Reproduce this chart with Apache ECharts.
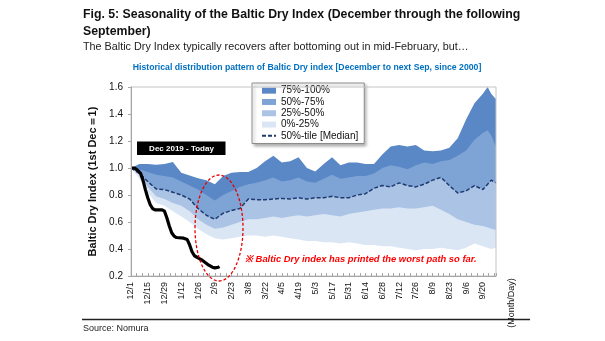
<!DOCTYPE html>
<html><head><meta charset="utf-8">
<script src="https://cdn.jsdelivr.net/npm/echarts@6/dist/echarts.min.js"></script>
<style>html,body{margin:0;padding:0;background:#fff}#c{width:605px;height:341px}</style>
</head><body><div id="c"></div>
<script>
// x tick labels (every 14 days from 12/1)
const xTickLabels = ['12/1','12/15','12/29','1/12','1/26','2/9','2/23','3/8','3/22','4/5','4/19','5/3','5/17','5/31','6/14','6/28','7/12','7/26','8/9','8/23','9/6','9/20'];
// days since 12/1 for the distribution bands
const bandDays = [0,7,14,21,28,35,42,49,56,63,70,77,84,91,98,105,112,119,126,133,140,147,154,161,168,175,182,189,196,203,210,217,224,231,238,245,252,259,266,273,280,287,294,298,301,305];
const pMax = [1.00,1.03,1.03,1.025,1.03,1.045,0.965,0.945,0.925,0.91,0.88,0.94,0.965,0.97,0.97,1.0,1.05,1.09,1.04,1.05,1.08,1.0,0.975,1.03,1.08,1.02,1.04,1.04,1.03,1.03,1.10,1.16,1.17,1.16,1.17,1.13,1.125,1.13,1.15,1.22,1.36,1.48,1.55,1.60,1.55,1.51];
const p75 = [1.00,0.99,0.97,0.95,0.94,0.93,0.90,0.87,0.84,0.80,0.76,0.80,0.83,0.86,0.88,0.89,0.91,0.93,0.90,0.91,0.93,0.90,0.89,0.92,0.95,0.92,0.93,0.94,0.94,0.96,1.0,1.02,1.01,0.99,1.02,1.04,1.03,1.05,1.06,1.09,1.13,1.21,1.26,1.28,1.24,1.16];
const p50 = [1.00,0.96,0.90,0.845,0.84,0.82,0.80,0.77,0.70,0.65,0.62,0.665,0.685,0.70,0.77,0.765,0.765,0.77,0.775,0.77,0.78,0.77,0.78,0.78,0.79,0.78,0.78,0.80,0.81,0.85,0.87,0.86,0.89,0.87,0.86,0.88,0.91,0.93,0.87,0.815,0.83,0.87,0.84,0.88,0.91,0.89];
const p25 = [1.00,0.95,0.86,0.79,0.77,0.74,0.72,0.68,0.62,0.58,0.55,0.56,0.58,0.60,0.62,0.62,0.63,0.64,0.63,0.64,0.65,0.64,0.65,0.66,0.65,0.64,0.66,0.67,0.68,0.69,0.70,0.70,0.71,0.70,0.70,0.71,0.72,0.69,0.66,0.62,0.60,0.58,0.57,0.56,0.55,0.54];
const pMin = [1.00,0.92,0.82,0.74,0.72,0.68,0.64,0.60,0.55,0.51,0.48,0.47,0.48,0.49,0.50,0.50,0.49,0.50,0.49,0.48,0.47,0.46,0.46,0.45,0.45,0.44,0.45,0.44,0.43,0.43,0.42,0.42,0.41,0.40,0.39,0.40,0.40,0.41,0.40,0.39,0.41,0.44,0.42,0.41,0.40,0.41];
// Dec 2019 - Today path
const curDays = [0,3,6,8,10,12,14,16,18,20,26,28,30,32,34,36,38,44,47,49,51,53,56,59,62,65,68,70,73,74];
const curValues = [1.0,1.0,0.98,0.96,0.91,0.84,0.78,0.73,0.70,0.69,0.69,0.68,0.63,0.57,0.52,0.495,0.485,0.48,0.47,0.43,0.38,0.35,0.335,0.32,0.30,0.28,0.265,0.26,0.265,0.27];

const FONT = 'Liberation Sans';
const bandColors = {'75%-100%':'#5a87c6','50%-75%':'#7ea3d5','25%-50%':'#abc4e5','0%-25%':'#dbe6f4','floor':'#ffffff'};
const pairs = (xs, ys) => xs.map((x,i)=>[x, ys[i]]);

// each band is filled from its upper boundary down to the axis; lower bands are painted over it
function band(name, vals){
  return {name, type:'line', symbol:'none', color:bandColors[name],
    lineStyle:{width:0}, areaStyle:{color:bandColors[name], opacity:1, origin:'start'},
    data: pairs(bandDays, vals), z:2, silent:true};
}

const chart = echarts.init(document.getElementById('c'), null, {renderer:'canvas'});
chart.setOption({
  animation:false,
  textStyle:{fontFamily:FONT},
  grid:{left:131, right:109, top:87, bottom:65, show:true, borderColor:'#c4c4c4', borderWidth:1, z:5},
  legend:{
    orient:'vertical', left:252, top:83, itemWidth:14, itemHeight:6, itemGap:0,
    padding:[2,6,2,9], backgroundColor:'#fff', borderColor:'#8c8c8c', borderWidth:1,
    shadowColor:'rgba(0,0,0,0.3)', shadowBlur:3, shadowOffsetX:2, shadowOffsetY:2,
    textStyle:{fontFamily:FONT, fontSize:10, color:'#111', lineHeight:11.3},
    itemStyle:{borderWidth:0},
    data:[{name:'75%-100%',icon:'rect'},{name:'50%-75%',icon:'rect'},{name:'25%-50%',icon:'rect'},{name:'0%-25%',icon:'rect'},
      {name:'50%-tile [Median]', itemStyle:{opacity:0}}]
  },
  xAxis:{type:'value', min:0, max:305, interval:14, z:6,
    axisLine:{lineStyle:{color:'#a6a6a6'}},
    axisTick:{inside:true, length:3, lineStyle:{color:'#a6a6a6'}},
    minorTick:{show:true, splitNumber:3, length:3, lineStyle:{color:'#a6a6a6'}},
    splitLine:{show:false},
    axisLabel:{rotate:90, fontSize:9, color:'#111', margin:6, showMaxLabel:false,
      formatter:v=>xTickLabels[Math.round(v/14)] || ''}
  },
  yAxis:{type:'value', min:0.2, max:1.6, interval:0.2, z:6,
    name:'Baltic Dry Index (1st Dec＝1)', nameLocation:'middle', nameGap:30,
    nameTextStyle:{fontFamily:FONT, fontSize:11, fontWeight:'bold', color:'#111'},
    axisLine:{show:true, lineStyle:{color:'#a6a6a6'}},
    axisTick:{show:true, length:3, lineStyle:{color:'#a6a6a6'}},
    splitLine:{show:false},
    axisLabel:{fontSize:10, color:'#111', margin:8, formatter:v=>v.toFixed(1)}
  },
  series:[
    band('75%-100%', pMax),
    band('50%-75%', p75),
    band('25%-50%', p50),
    band('0%-25%', p25),
    band('floor', pMin),
    {name:'50%-tile [Median]', type:'line', symbol:'none', color:'#1f3a6e',
      lineStyle:{color:'#1f3a6e', width:1.5, type:[4,2]}, data:pairs(bandDays,p50), z:3},
    {name:'Dec 2019 - Today', type:'line', symbol:'none', color:'#000',
      lineStyle:{color:'#000', width:3.2}, data:pairs(curDays,curValues), z:4}
  ],
  graphic:[
    {type:'text', left:83, top:6, style:{text:'Fig. 5: Seasonality of the Baltic Dry Index (December through the following\nSeptember)', font:'bold 12.3px "Liberation Sans"', fill:'#111', lineHeight:17}},
    {type:'text', left:83, top:42, style:{text:'The Baltic Dry Index typically recovers after bottoming out in mid-February, but…', font:'10.8px "Liberation Sans"', fill:'#222'}},
    {type:'text', x:307, y:68, style:{text:'Historical distribution pattern of Baltic Dry index [December to next Sep, since 2000]', font:'bold 8.7px "Liberation Sans"', fill:'#0070c0', align:'center', verticalAlign:'middle'}},
    {type:'rect', shape:{x:137, y:141.5, width:88.5, height:13.5}, style:{fill:'#000'}, z:10},
    {type:'text', x:181.5, y:148.5, style:{text:'Dec 2019 - Today', font:'bold 8px "Liberation Sans"', fill:'#fff', align:'center', verticalAlign:'middle'}, z:11},
    {type:'ellipse', shape:{cx:219, cy:228, rx:24, ry:53}, style:{fill:null, stroke:'#e60000', lineWidth:1.3, lineDash:[3,2]}, z:10},
    {type:'text', x:245, y:259, style:{text:'※ Baltic Dry index has printed the worst path so far.', font:'italic bold 9.4px "Liberation Sans"', fill:'#ff0000', verticalAlign:'middle'}, z:10},
    {type:'text', x:512, y:303, rotation:Math.PI/2, style:{text:'(Month/Day)', font:'9px "Liberation Sans"', fill:'#111', align:'center', verticalAlign:'middle'}},
    {type:'line', shape:{x1:82, y1:319.5, x2:530, y2:319.5}, style:{stroke:'#222', lineWidth:1.6}},
    {type:'text', left:83, top:324, style:{text:'Source: Nomura', font:'9px "Liberation Sans"', fill:'#222'}}
  ]
});
</script></body></html>
